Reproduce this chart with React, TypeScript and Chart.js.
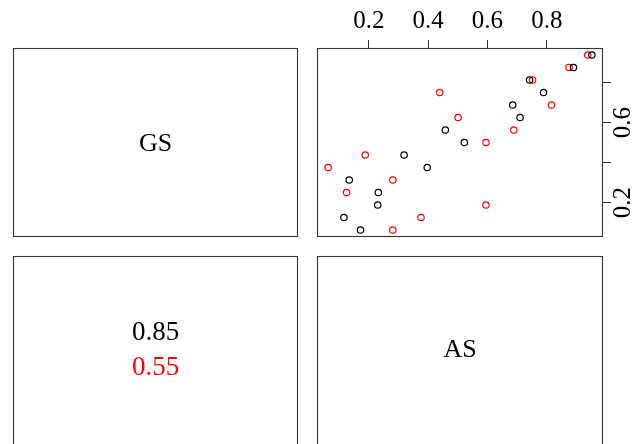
import { useEffect, useRef } from "react";
import { Chart, registerables } from "chart.js";

Chart.register(...registerables);

// Variable names shown on the diagonal panels
const variableNames = ["GS", "AS"];
// Per-group correlation coefficients (lower panel), one per group
const correlations = [0.85, 0.55];
const groupColors = ["#000000", "#ff0000"];

// Group 1 (black): AS on the x axis, GS on the y axis
const blackAS = [0.952, 0.89, 0.742, 0.789, 0.685, 0.71, 0.458, 0.522, 0.319, 0.397, 0.134, 0.232, 0.23, 0.116, 0.172];
const blackGS = [0.9375, 0.875, 0.8125, 0.75, 0.6875, 0.625, 0.5625, 0.5, 0.4375, 0.375, 0.3125, 0.25, 0.1875, 0.125, 0.0625];

// Group 2 (red)
const redAS = [0.938, 0.875, 0.752, 0.439, 0.816, 0.501, 0.689, 0.595, 0.188, 0.063, 0.281, 0.125, 0.595, 0.376, 0.281];
const redGS = [0.9375, 0.875, 0.8125, 0.75, 0.6875, 0.625, 0.5625, 0.5, 0.4375, 0.375, 0.3125, 0.25, 0.1875, 0.125, 0.0625];

// Axis ticks
const xTicks = [0.2, 0.4, 0.6, 0.8];
const yTicks = [0.2, 0.4, 0.6, 0.8];
const yTickLabels = [0.2, 0.6];

const W = 644;
const H = 444;
const SERIF = "'Liberation Serif', 'Times New Roman', serif";
const BOX = "#333333";

// Panel frames
const colX = [
  [13.5, 297.5],
  [317.5, 602.5],
];
const rowY = [
  [48.5, 236.5],
  [256.5, 447.5],
];
// Text centres inside the diagonal panels
const labelCentreY = [144, 350];

const toPoints = (xs: number[], ys: number[]) => xs.map((x, i) => ({ x, y: ys[i] }));

const panelsPlugin = {
  id: "pairsPanels",
  afterDraw(chart: Chart) {
    const ctx = chart.ctx;
    ctx.save();
    ctx.strokeStyle = BOX;
    ctx.lineWidth = 1.1;
    for (let r = 0; r < 2; r++) {
      for (let c = 0; c < 2; c++) {
        const [l, rr] = colX[c];
        const [t, b] = rowY[r];
        ctx.strokeRect(l, t, rr - l, b - t);
      }
    }
    ctx.textAlign = "center";
    ctx.textBaseline = "middle";

    // Diagonal: variable names
    ctx.fillStyle = "#000";
    ctx.font = `26px ${SERIF}`;
    variableNames.forEach((name, i) => {
      const cx = (colX[i][0] + colX[i][1]) / 2;
      ctx.fillText(name, cx, labelCentreY[i]);
    });

    // Lower panel: correlations per group
    ctx.font = `27px ${SERIF}`;
    const lx = (colX[0][0] + colX[0][1]) / 2;
    const centerY = 350;
    const gap = 35;
    correlations.forEach((v, i) => {
      ctx.fillStyle = groupColors[i];
      const y = centerY + (i - (correlations.length - 1) / 2) * gap;
      ctx.fillText(v.toFixed(2), lx, y);
    });
    ctx.restore();
  },
};

export default function App() {
  const canvasRef = useRef<HTMLCanvasElement | null>(null);

  useEffect(() => {
    const canvas = canvasRef.current;
    if (!canvas) return;
    const pointStyle = (color: string) => ({
      pointStyle: "circle" as const,
      pointRadius: 3.2,
      pointBorderWidth: 1.2,
      pointBorderColor: color,
      pointBackgroundColor: "rgba(0,0,0,0)",
      showLine: false,
    });
    const chart = new Chart(canvas, {
      type: "scatter",
      data: {
        datasets: [
          { label: "1", data: toPoints(blackAS, blackGS), ...pointStyle(groupColors[0]) },
          { label: "2", data: toPoints(redAS, redGS), ...pointStyle(groupColors[1]) },
        ],
      },
      options: {
        responsive: false,
        animation: false,
        devicePixelRatio: 1,
        events: [],
        layout: { padding: { left: 317, right: 0, top: 0, bottom: H - 237 } },
        plugins: { legend: { display: false }, tooltip: { enabled: false } },
        scales: {
          x: {
            type: "linear",
            position: "top",
            min: 0.0253,
            max: 0.9895,
            afterBuildTicks: (scale: any) => {
              scale.ticks = xTicks.map((value) => ({ value }));
            },
            afterFit: (scale: any) => {
              scale.height = 48;
            },
            border: { display: false },
            grid: { drawOnChartArea: false, drawTicks: true, tickLength: 8, color: BOX, lineWidth: 1 },
            ticks: {
              autoSkip: false,
              maxRotation: 0,
              padding: 4,
              color: "#000",
              font: { family: SERIF, size: 25 },
              callback: (v: any) => Number(v).toFixed(1),
            },
          },
          y: {
            type: "linear",
            position: "right",
            min: 0.0275,
            max: 0.9725,
            afterBuildTicks: (scale: any) => {
              scale.ticks = yTicks.map((value) => ({ value }));
            },
            afterFit: (scale: any) => {
              scale.width = W - 603;
            },
            border: { display: false },
            grid: { drawOnChartArea: false, drawTicks: true, tickLength: 8, color: BOX, lineWidth: 1 },
            ticks: {
              autoSkip: false,
              minRotation: 90,
              maxRotation: 90,
              crossAlign: "center",
              padding: -3,
              color: "#000",
              font: { family: SERIF, size: 25 },
              callback: (v: any) => (yTickLabels.some((t) => Math.abs(t - Number(v)) < 1e-9) ? Number(v).toFixed(1) : ""),
            },
          },
        },
      },
      plugins: [panelsPlugin],
    });
    return () => chart.destroy();
  }, []);

  return (
    <div style={{ position: "absolute", left: 0, top: 0, width: W, height: H, background: "#fff" }}>
      <canvas ref={canvasRef} width={W} height={H} />
    </div>
  );
}
